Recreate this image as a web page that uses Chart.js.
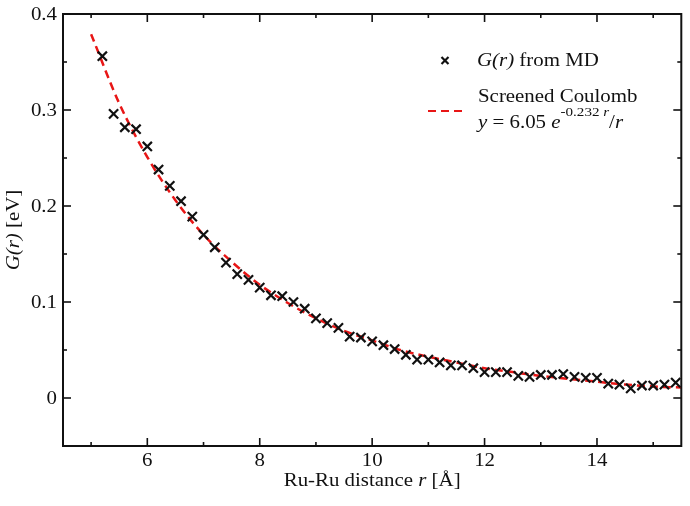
<!DOCTYPE html>
<html>
<head>
<meta charset="utf-8">
<script src="https://cdn.jsdelivr.net/npm/chart.js@4/dist/chart.umd.min.js"></script>
<style>
  html, body { margin: 0; padding: 0; background: #fff; }
  #wrap { width: 690px; height: 506px; position: relative; }
  .probe { position: absolute; left: -999px; top: 0; font-family: "Liberation Serif"; }
</style>
</head>
<body>
<div id="wrap"><canvas id="grChart" width="690" height="506"></canvas></div>
<span class="probe">Ru <i>G(r)</i></span>
<script>
// MD points
const rValues = [5.2, 5.4, 5.6, 5.8, 6.0, 6.2, 6.4, 6.6, 6.8, 7.0, 7.2, 7.4, 7.6, 7.8, 8.0, 8.2, 8.4,
  8.6, 8.8, 9.0, 9.2, 9.4, 9.6, 9.8, 10.0, 10.2, 10.4, 10.6, 10.8, 11.0, 11.2, 11.4, 11.6, 11.8,
  12.0, 12.2, 12.4, 12.6, 12.8, 13.0, 13.2, 13.4, 13.6, 13.8, 14.0, 14.2, 14.4, 14.6, 14.8, 15.0, 15.2, 15.4];
const gValues = [0.356, 0.296, 0.282, 0.280, 0.262, 0.238, 0.221, 0.205, 0.189, 0.170, 0.157, 0.141,
  0.129, 0.123, 0.115, 0.107, 0.106, 0.100, 0.093, 0.083, 0.078, 0.073, 0.064, 0.063, 0.059, 0.055,
  0.051, 0.045, 0.040, 0.040, 0.037, 0.034, 0.034, 0.031, 0.027, 0.027, 0.027, 0.023, 0.022, 0.024,
  0.024, 0.025, 0.022, 0.021, 0.021, 0.015, 0.014, 0.010, 0.013, 0.013, 0.014, 0.016];

// dashed screened Coulomb curve, sampled from the figure
const fitR = [5, 5.5, 6, 6.5, 7, 7.5, 8, 8.5, 9, 9.5, 10, 10.5, 11, 11.5, 12, 12.5, 13, 13.5, 14, 14.5, 15, 15.5];
const fitG = [0.379, 0.307, 0.251, 0.206, 0.170, 0.142, 0.118, 0.099, 0.083, 0.070, 0.060, 0.050,
  0.043, 0.037, 0.031, 0.027, 0.023, 0.020, 0.017, 0.014, 0.012, 0.011];

const xTickLabels = [6, 8, 10, 12, 14];
const xMinorTicks = [5, 7, 9, 11, 13, 15];
const yTickLabels = [0, 0.1, 0.2, 0.3, 0.4];
const yMinorTicks = [-0.05, 0.05, 0.15, 0.25, 0.35];

const FONT = '"Liberation Serif", "Times New Roman", Tinos, serif';
const SX = 1.16; // text in the figure is a bit wide
const INK = '#111';
const RED = 'rgb(232, 22, 22)';

function richText(ctx, parts, x, y, align, rot) {
  ctx.save();
  ctx.translate(x, y);
  if (rot) ctx.rotate(rot);
  ctx.scale(SX, 1);
  let w = 0;
  parts.forEach(p => {
    ctx.font = (p.italic ? 'italic ' : '') + (p.size || 18) + 'px ' + FONT;
    w += ctx.measureText(p.t).width;
  });
  let cx = align === 'center' ? -w / 2 : align === 'right' ? -w : 0;
  ctx.textBaseline = 'alphabetic';
  ctx.textAlign = 'left';
  ctx.fillStyle = INK;
  parts.forEach(p => {
    ctx.font = (p.italic ? 'italic ' : '') + (p.size || 18) + 'px ' + FONT;
    ctx.fillText(p.t, cx, p.dy || 0);
    cx += ctx.measureText(p.t).width;
  });
  ctx.restore();
}

const frameAndText = {
  id: 'frameAndText',
  afterDraw(chart) {
    const ctx = chart.ctx;
    const a = chart.chartArea;
    const xs = chart.scales.x, ys = chart.scales.y;
    ctx.save();
    ctx.strokeStyle = INK;
    ctx.lineWidth = 2;
    ctx.strokeRect(a.left, a.top, a.right - a.left, a.bottom - a.top);

    // inward ticks on all four sides
    ctx.lineWidth = 1.6;
    const tick = (x1, y1, x2, y2) => { ctx.beginPath(); ctx.moveTo(x1, y1); ctx.lineTo(x2, y2); ctx.stroke(); };
    xTickLabels.forEach(v => {
      const px = xs.getPixelForValue(v);
      tick(px, a.bottom, px, a.bottom - 8); tick(px, a.top, px, a.top + 8);
    });
    xMinorTicks.forEach(v => {
      const px = xs.getPixelForValue(v);
      tick(px, a.bottom, px, a.bottom - 4); tick(px, a.top, px, a.top + 4);
    });
    yTickLabels.forEach(v => {
      const py = ys.getPixelForValue(v);
      tick(a.left, py, a.left + 8, py); tick(a.right, py, a.right - 8, py);
    });
    yMinorTicks.forEach(v => {
      const py = ys.getPixelForValue(v);
      tick(a.left, py, a.left + 4, py); tick(a.right, py, a.right - 4, py);
    });

    // tick labels
    xTickLabels.forEach(v => {
      richText(ctx, [{ t: String(v) }], xs.getPixelForValue(v), a.bottom + 20, 'center');
    });
    yTickLabels.forEach(v => {
      const lbl = v === 0 ? '0' : v.toFixed(1);
      richText(ctx, [{ t: lbl }], a.left - 6, ys.getPixelForValue(v) + 6, 'right');
    });

    // axis titles
    richText(ctx, [{ t: 'Ru-Ru distance ' }, { t: 'r', italic: true }, { t: ' [Å]' }],
      (a.left + a.right) / 2, 486, 'center');
    richText(ctx, [{ t: 'G(r)', italic: true }, { t: ' [eV]' }],
      19, (a.top + a.bottom) / 2, 'center', -Math.PI / 2);

    // legend
    ctx.strokeStyle = INK;
    ctx.lineWidth = 2.2;
    tick(441.5, 57, 448.5, 64); tick(448.5, 57, 441.5, 64);
    richText(ctx, [{ t: 'G(r)', italic: true }, { t: ' from MD' }], 477, 66, 'left');

    ctx.strokeStyle = RED;
    ctx.lineWidth = 2;
    ctx.setLineDash([8, 5]);
    tick(428, 111, 466, 111);
    ctx.setLineDash([]);
    richText(ctx, [{ t: 'Screened Coulomb' }], 478, 102, 'left');
    richText(ctx, [
      { t: 'y', italic: true }, { t: ' = 6.05 ' }, { t: 'e', italic: true },
      { t: '-0.232 ', size: 13, dy: -12 }, { t: 'r', italic: true, size: 13, dy: -12 },
      { t: '/' }, { t: 'r', italic: true }
    ], 478, 128, 'left');
    ctx.restore();
  }
};

function build() {
  new Chart(document.getElementById('grChart'), {
    type: 'scatter',
    data: {
      datasets: [
        {
          label: 'Screened Coulomb',
          data: fitR.map((r, i) => ({ x: r, y: fitG[i] })),
          showLine: true,
          borderColor: RED,
          borderWidth: 2.5,
          borderDash: [8, 5],
          pointRadius: 0,
          cubicInterpolationMode: 'monotone',
          order: 2
        },
        {
          label: 'G(r) from MD',
          data: rValues.map((r, i) => ({ x: r, y: gValues[i] })),
          pointStyle: 'crossRot',
          pointRadius: 6.5,
          borderColor: INK,
          borderWidth: 2.2,
          order: 1
        }
      ]
    },
    options: {
      responsive: false,
      animation: false,
      layout: { padding: { left: 63, right: 7, top: 14, bottom: 60 } },
      plugins: { legend: { display: false }, tooltip: { enabled: false } },
      scales: {
        x: { type: 'linear', min: 4.5, max: 15.5, display: false },
        y: { type: 'linear', min: -0.05, max: 0.4, display: false }
      }
    },
    plugins: [frameAndText]
  });
}

Promise.all([
  document.fonts.load('18px "Liberation Serif"'),
  document.fonts.load('italic 18px "Liberation Serif"')
]).then(build, build);
</script>
</body>
</html>
